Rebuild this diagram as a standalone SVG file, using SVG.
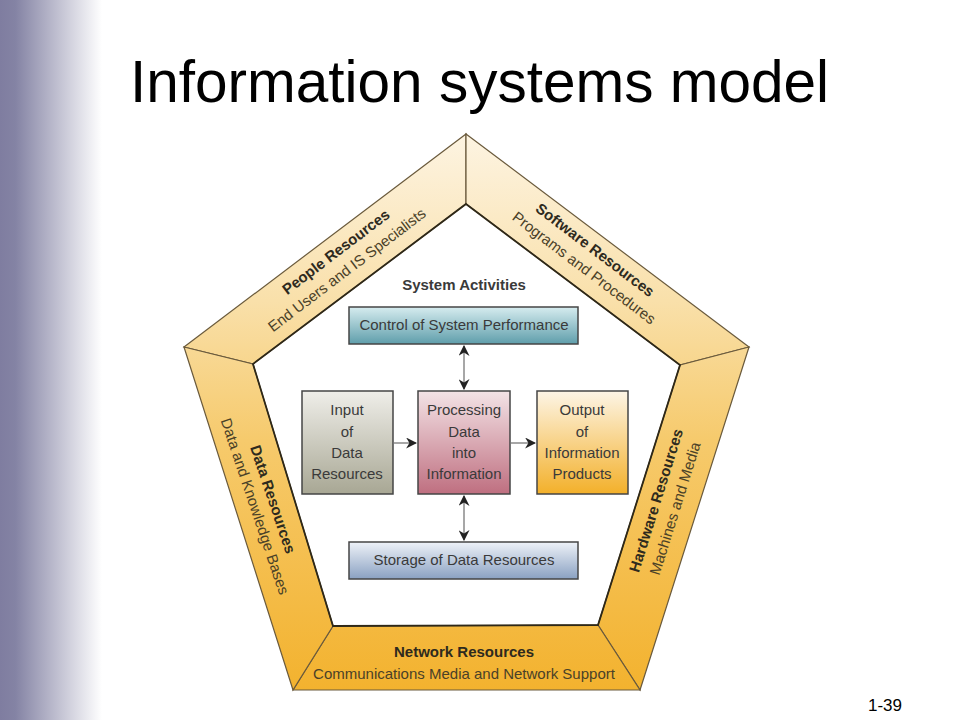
<svg xmlns="http://www.w3.org/2000/svg" width="960" height="720" viewBox="0 0 960 720">
<defs>
  <linearGradient id="side" x1="0" y1="0" x2="1" y2="0">
    <stop offset="0" stop-color="#7f7da0"/>
    <stop offset="0.15" stop-color="#8483a4"/>
    <stop offset="1" stop-color="#ffffff"/>
  </linearGradient>
  <linearGradient id="ring" gradientUnits="userSpaceOnUse" x1="0" y1="133" x2="0" y2="692">
    <stop offset="0" stop-color="#fdf4e2"/>
    <stop offset="0.3" stop-color="#f9e0aa"/>
    <stop offset="0.55" stop-color="#f6ca6c"/>
    <stop offset="1" stop-color="#f3b22e"/>
  </linearGradient>
  <linearGradient id="gCtrl" x1="0" y1="0" x2="0" y2="1">
    <stop offset="0" stop-color="#d6ecef"/>
    <stop offset="1" stop-color="#5f9eab"/>
  </linearGradient>
  <linearGradient id="gIn" x1="0" y1="0" x2="0" y2="1">
    <stop offset="0" stop-color="#efeee9"/>
    <stop offset="1" stop-color="#a8a794"/>
  </linearGradient>
  <linearGradient id="gProc" x1="0" y1="0" x2="0" y2="1">
    <stop offset="0" stop-color="#f3e3e6"/>
    <stop offset="1" stop-color="#bf6f80"/>
  </linearGradient>
  <linearGradient id="gOut" x1="0" y1="0" x2="0" y2="1">
    <stop offset="0" stop-color="#fdf5e6"/>
    <stop offset="1" stop-color="#f3b02a"/>
  </linearGradient>
  <linearGradient id="gStor" x1="0" y1="0" x2="0" y2="1">
    <stop offset="0" stop-color="#eef2f8"/>
    <stop offset="1" stop-color="#8aa1c2"/>
  </linearGradient>
  <marker id="ah" viewBox="0 0 10 10" refX="9" refY="5" markerWidth="11" markerHeight="11" markerUnits="userSpaceOnUse" orient="auto-start-reverse">
    <path d="M0,0 L10,5 L0,10 L3,5 Z" fill="#222222"/>
  </marker>
  <style>
    .seg { fill: url(#ring); stroke: #6a5a3c; stroke-width: 1.2; stroke-linejoin: miter; }
    .inner { fill: none; stroke: #2e2818; stroke-width: 1.8; }
    .box { stroke: #454545; stroke-width: 1.5; }
    .t { font-family: "Liberation Sans", Arial, sans-serif; fill: #3a3a3a; text-anchor: middle; }
    .rb { font-family: "Liberation Sans", Arial, sans-serif; font-weight: bold; font-size: 15px; fill: #2e2a1e; text-anchor: middle; }
    .rn { font-family: "Liberation Sans", Arial, sans-serif; font-size: 15px; fill: #4a4128; text-anchor: middle; }
    .bt { font-size: 15px; }
    .conn { stroke: #8a8a8a; stroke-width: 1.5; fill: none; }
  </style>
</defs>
<rect x="0" y="0" width="960" height="720" fill="#ffffff"/>
<rect x="0" y="0" width="102" height="720" fill="url(#side)"/>
<text x="130" y="102" font-family="'Liberation Sans', Arial, sans-serif" font-size="58.5" fill="#000000">Information systems model</text>
<text x="902" y="711" font-family="'Liberation Sans', Arial, sans-serif" font-size="17" fill="#000000" text-anchor="end">1-39</text>

<g id="ring">
  <g id="people">
    <polygon class="seg" points="184,347 466,134 466,204 253,364"/>
    <text class="rb" transform="translate(339,256) rotate(-37.2)">People Resources</text>
    <text class="rn" transform="translate(350,274) rotate(-37.2)">End Users and IS Specialists</text>
  </g>
  <g id="software">
    <polygon class="seg" points="466,134 749,347 680,365 466,204"/>
    <text class="rb" transform="translate(592,254) rotate(37.2)">Software Resources</text>
    <text class="rn" transform="translate(581,272) rotate(37.2)">Programs and Procedures</text>
  </g>
  <g id="hardware">
    <polygon class="seg" points="749,347 640,690 598,625 680,365"/>
    <text class="rb" transform="translate(661,502) rotate(-72.6)">Hardware Resources</text>
    <text class="rn" transform="translate(680,510) rotate(-72.6)">Machines and Media</text>
  </g>
  <g id="network">
    <polygon class="seg" points="640,690 293,690 333,626 598,625"/>
    <text class="rb" x="464" y="657">Network Resources</text>
    <text class="rn" x="464" y="679">Communications Media and Network Support</text>
  </g>
  <g id="data">
    <polygon class="seg" points="293,690 184,347 253,364 333,626"/>
    <text class="rb" transform="translate(268,501) rotate(71.4)">Data Resources</text>
    <text class="rn" transform="translate(250,508) rotate(71.4)">Data and Knowledge Bases</text>
  </g>
  <polygon class="inner" points="466,204 680,365 598,625 333,626 253,364"/>
</g>

<text id="title-activities" class="t" x="464" y="290" font-size="15" font-weight="bold" fill="#333333">System Activities</text>

<g id="control">
  <rect class="box" x="349" y="307" width="229" height="37" fill="url(#gCtrl)"/>
  <text class="t bt" x="464" y="330">Control of System Performance</text>
</g>
<g id="input">
  <rect class="box" x="302" y="391" width="91" height="103" fill="url(#gIn)"/>
  <text class="t bt" x="347" y="415">Input</text>
  <text class="t bt" x="347" y="437">of</text>
  <text class="t bt" x="347" y="458">Data</text>
  <text class="t bt" x="347" y="479">Resources</text>
</g>
<g id="processing">
  <rect class="box" x="418" y="391" width="92" height="103" fill="url(#gProc)"/>
  <text class="t bt" x="464" y="415">Processing</text>
  <text class="t bt" x="464" y="437">Data</text>
  <text class="t bt" x="464" y="458">into</text>
  <text class="t bt" x="464" y="479">Information</text>
</g>
<g id="output">
  <rect class="box" x="537" y="391" width="91" height="103" fill="url(#gOut)"/>
  <text class="t bt" x="582" y="415">Output</text>
  <text class="t bt" x="582" y="437">of</text>
  <text class="t bt" x="582" y="458">Information</text>
  <text class="t bt" x="582" y="479">Products</text>
</g>
<g id="storage">
  <rect class="box" x="349" y="542" width="229" height="37" fill="url(#gStor)"/>
  <text class="t bt" x="464" y="565">Storage of Data Resources</text>
</g>

<g id="connectors">
  <line class="conn" x1="394" y1="443" x2="416" y2="443" marker-end="url(#ah)"/>
  <line class="conn" x1="511" y1="443" x2="535" y2="443" marker-end="url(#ah)"/>
  <line class="conn" x1="464" y1="346" x2="464" y2="389" marker-start="url(#ah)" marker-end="url(#ah)"/>
  <line class="conn" x1="464" y1="496" x2="464" y2="540" marker-start="url(#ah)" marker-end="url(#ah)"/>
</g>
</svg>
